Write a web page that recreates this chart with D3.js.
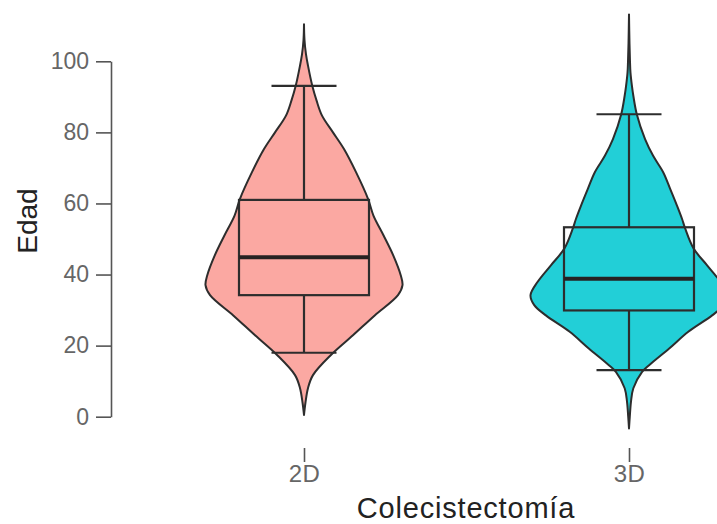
<!DOCTYPE html>
<html>
<head>
<meta charset="utf-8">
<script src="https://cdn.jsdelivr.net/npm/d3@7"></script>
<style>
  html, body { margin: 0; padding: 0; background: #fff; }
  svg { display: block; font-family: "Liberation Sans", Arial, sans-serif; }
</style>
</head>
<body>
<svg id="chart" width="717" height="524"></svg>
<script>
// Groups and their fill colours
const groups = ["2D", "3D"];
const fills = ["#FBA8A2", "#22CFD7"];

// Box-plot summaries of age (Edad) per group
const q1 = [34.2, 29.9];
const median = [44.9, 38.8];
const q3 = [61.0, 53.3];
const whiskerLow = [18.0, 13.1];
const whiskerHigh = [93.1, 85.1];

// Violin outlines: ages and relative density (1 = widest point)
const ages2D = [110.4, 106, 102, 98.7, 93.1, 89, 84.7, 80, 75.3, 68.8, 61.3, 56.6, 51, 45.4, 39.8, 37, 34.2, 28.5, 22.9, 17.3, 11.7, 8.1, 4, 0.5];
const density2D = [0, 0.005, 0.02, 0.041, 0.084, 0.127, 0.183, 0.294, 0.406, 0.528, 0.650, 0.705, 0.808, 0.906, 0.982, 1.0, 0.954, 0.718, 0.497, 0.271, 0.091, 0.041, 0.015, 0];
const ages3D = [113.2, 105, 100, 96.8, 93, 90.3, 85.1, 78.1, 73.4, 68.8, 64.1, 59.4, 55.7, 52.9, 47.3, 42.6, 37.9, 34.2, 31.4, 28.5, 23.9, 19.2, 14.5, 12.6, 8.0, 4.2, 0, -3.3];
const density3D = [0, 0.005, 0.01, 0.015, 0.03, 0.044, 0.079, 0.163, 0.245, 0.347, 0.418, 0.487, 0.538, 0.571, 0.656, 0.793, 0.929, 1.0, 0.962, 0.844, 0.602, 0.408, 0.204, 0.133, 0.044, 0.020, 0.008, 0];

// Y axis ticks
const yTicks = [0, 20, 40, 60, 80, 100];

const violins = [
  { ages: ages2D, density: density2D },
  { ages: ages3D, density: density3D }
];

const svg = d3.select("#chart");
const ink = "#2d2d2d";

const y = d3.scaleLinear().domain([0, 100]).range([416.7, 61.3]);
const x = d3.scalePoint().domain(groups).range([304, 629]);
const step = x(groups[1]) - x(groups[0]);
const halfWidth = d3.scaleLinear().domain([0, 1]).range([0, 98.5]);

// Violins
violins.forEach((v, i) => {
  const cx = x(groups[i]);
  const pts = v.ages.map((a, k) => ({ age: a, d: v.density[k] }));
  const area = d3.area()
    .y(d => y(d.age))
    .x0(d => cx - halfWidth(d.d))
    .x1(d => cx + halfWidth(d.d))
    .curve(d3.curveCatmullRom.alpha(0.5));
  svg.append("path")
    .attr("d", area(pts))
    .attr("fill", fills[i])
    .attr("stroke", ink)
    .attr("stroke-width", 2)
    .attr("stroke-linejoin", "round");
});

// Box plots
const boxHalf = step * 0.2;
const capHalf = step * 0.1;
groups.forEach((g, i) => {
  const cx = x(g);
  const gBox = svg.append("g").attr("stroke", ink).attr("fill", "none");
  gBox.append("line")
    .attr("x1", cx).attr("x2", cx)
    .attr("y1", y(whiskerHigh[i])).attr("y2", y(q3[i]))
    .attr("stroke-width", 2.2);
  gBox.append("line")
    .attr("x1", cx).attr("x2", cx)
    .attr("y1", y(q1[i])).attr("y2", y(whiskerLow[i]))
    .attr("stroke-width", 2.2);
  [whiskerHigh[i], whiskerLow[i]].forEach(v => {
    gBox.append("line")
      .attr("x1", cx - capHalf).attr("x2", cx + capHalf)
      .attr("y1", y(v)).attr("y2", y(v))
      .attr("stroke-width", 2.2);
  });
  gBox.append("rect")
    .attr("x", cx - boxHalf).attr("width", boxHalf * 2)
    .attr("y", y(q3[i])).attr("height", y(q1[i]) - y(q3[i]))
    .attr("stroke-width", 2.2);
  gBox.append("line")
    .attr("x1", cx - boxHalf).attr("x2", cx + boxHalf)
    .attr("y1", y(median[i])).attr("y2", y(median[i]))
    .attr("stroke", "#262222")
    .attr("stroke-width", 4);
});

// Y axis
const yAxis = svg.append("g")
  .attr("transform", "translate(111,0)")
  .call(d3.axisLeft(y).tickValues(yTicks).tickSize(15).tickSizeOuter(0).tickPadding(7));
yAxis.select(".domain").attr("stroke", "#555").attr("stroke-width", 1.6);
yAxis.selectAll(".tick line").attr("stroke", "#555").attr("stroke-width", 1.6);
yAxis.selectAll(".tick text")
  .attr("fill", "#666")
  .style("font-size", "23px")
  .style("font-family", "'Liberation Sans', Arial, sans-serif");

// X axis (ticks only)
const xAxis = svg.append("g")
  .attr("transform", "translate(0,448)")
  .call(d3.axisBottom(x).tickSize(14).tickSizeOuter(0).tickPadding(3));
xAxis.select(".domain").remove();
xAxis.selectAll(".tick line").attr("stroke", "#555").attr("stroke-width", 1.6);
xAxis.selectAll(".tick text")
  .attr("fill", "#666")
  .style("font-size", "24px")
  .style("letter-spacing", "0.5px")
  .style("font-family", "'Liberation Sans', Arial, sans-serif");

// Axis titles
svg.append("text")
  .attr("transform", "translate(37,221) rotate(-90)")
  .attr("text-anchor", "middle")
  .attr("fill", "#222")
  .style("font-size", "28px")
  .text("Edad");

svg.append("text")
  .attr("x", 466)
  .attr("y", 518)
  .attr("text-anchor", "middle")
  .attr("fill", "#222")
  .style("font-size", "29px")
  .style("letter-spacing", "0.8px")
  .text("Colecistectomía");
</script>
</body>
</html>
